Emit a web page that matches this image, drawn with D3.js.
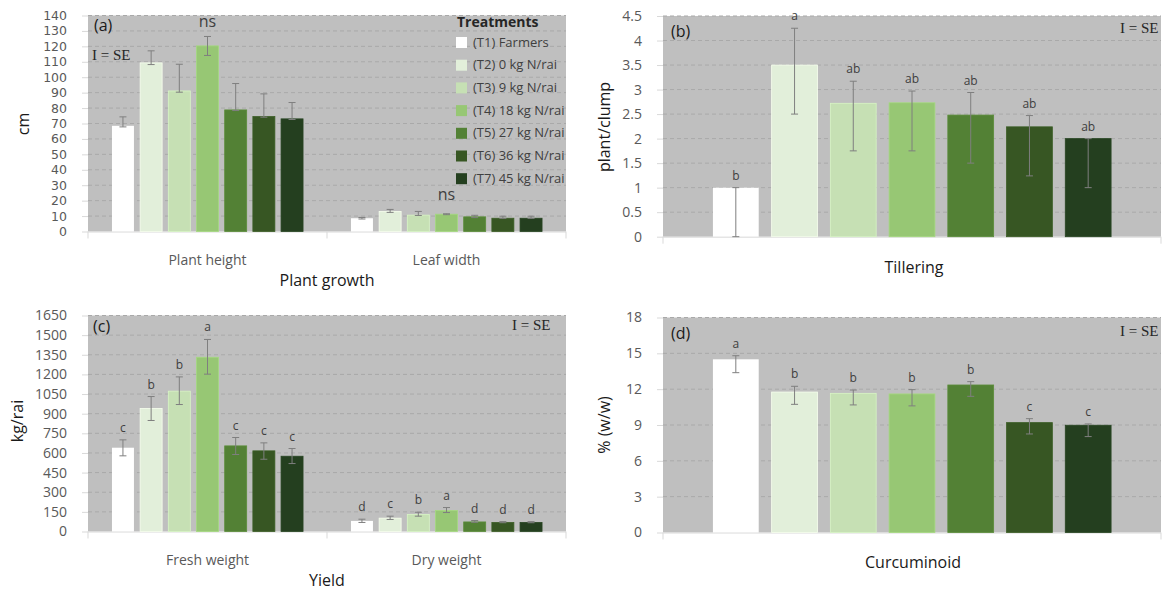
<!DOCTYPE html>
<html>
<head>
<meta charset="utf-8">
<script src="https://cdn.jsdelivr.net/npm/d3@7"></script>
<style>
  html, body { margin: 0; padding: 0; background: #ffffff; }
  svg { display: block; }
  text { font-family: "Open Sans", "Noto Sans", sans-serif; }
</style>
</head>
<body>
<svg id="chart" width="1162" height="592"></svg>
<script>
// Treatments (series) shared by all four panels
const treatments = ["(T1) Farmers", "(T2) 0 kg N/rai", "(T3) 9 kg N/rai", "(T4) 18 kg N/rai",
                    "(T5) 27 kg N/rai", "(T6) 36 kg N/rai", "(T7) 45 kg N/rai"];
const treatmentColors = ["#ffffff", "#e2efda", "#c6e0b4", "#97c774", "#538135", "#375623", "#243f1f"];

// (a) Plant growth
const growthCategories = ["Plant height", "Leaf width"];
const plantHeight        = [68.5, 109.3, 91.1, 120.3, 78.8, 74.5, 73.0];
const plantHeightErrUp   = [5.8, 7.8, 17.3, 6.1, 17.1, 14.7, 10.6];
const plantHeightErrDown = [0.7, 1.1, 0.8, 6.2, 0.4, 0.4, 0.4];
const leafWidth          = [8.6, 13.0, 10.6, 11.2, 9.5, 8.6, 8.6];
const leafWidthErrUp     = [0.5, 1.3, 2.4, 0.3, 1.0, 1.3, 1.3];
const leafWidthErrDown   = [0.5, 0.6, 0.2, 0.3, 0.5, 0.1, 0.1];
const growthSignificance = ["ns", "ns"];
const growthTicks = d3.range(0, 141, 10);

// (b) Tillering
const tilleringCategories = ["Tillering"];
const tillering         = [1.0, 3.5, 2.72, 2.73, 2.48, 2.24, 2.0];
const tilleringErrUp    = [0, 0.75, 0.45, 0.24, 0.46, 0.23, 0];
const tilleringErrDown  = [1.0, 1.0, 0.97, 0.98, 0.98, 1.0, 1.0];
const tilleringLetters  = ["b", "a", "ab", "ab", "ab", "ab", "ab"];
const tilleringTicks = [0, 0.5, 1, 1.5, 2, 2.5, 3, 3.5, 4, 4.5];

// (c) Yield
const yieldCategories = ["Fresh weight", "Dry weight"];
const freshWeight         = [640, 940, 1072, 1331, 654, 616, 575];
const freshWeightErrUp    = [60, 91, 109, 136, 64, 61, 59];
const freshWeightErrDown  = [62, 92, 102, 129, 66, 64, 56];
const freshWeightLetters  = ["c", "b", "b", "a", "c", "c", "c"];
const dryWeight           = [81, 102, 130, 160, 73, 69, 69];
const dryWeightErrUp      = [13, 15, 17, 23, 11, 7, 7];
const dryWeightErrDown    = [12, 10, 13, 15, 3, 2, 2];
const dryWeightLetters    = ["d", "c", "b", "a", "d", "d", "d"];
const yieldTicks = d3.range(0, 1651, 150);

// (d) Curcuminoid
const curcuminoidCategories = ["Curcuminoid"];
const curcuminoid         = [14.5, 11.76, 11.65, 11.6, 12.35, 9.2, 8.98];
const curcuminoidErrUp    = [0.3, 0.48, 0.28, 0.36, 0.28, 0.33, 0.11];
const curcuminoidErrDown  = [1.12, 1.03, 0.97, 1.0, 0.95, 0.95, 0.95];
const curcuminoidLetters  = ["a", "b", "b", "b", "b", "c", "c"];
const curcuminoidTicks = [0, 3, 6, 9, 12, 15, 18];

const svg = d3.select("#chart");

function drawPanel(cfg) {
  const g = svg.append("g");
  const { left, right, top, bottom } = cfg.box;

  const y = d3.scaleLinear().domain([0, cfg.ticks[cfg.ticks.length - 1]]).range([bottom, top]);
  const x0 = d3.scaleBand().domain(cfg.categories).range([left, right]).padding(0);
  const x1 = d3.scaleBand().domain(treatments).range([0, x0.bandwidth()])
    .paddingInner(0.22).paddingOuter(0.85);

  // plot area
  g.append("rect").attr("x", left).attr("y", top)
    .attr("width", right - left).attr("height", bottom - top).attr("fill", "#bfbfbf");

  // dashed gridlines
  g.append("g").selectAll("line").data(cfg.ticks.filter(t => t > 0)).join("line")
    .attr("x1", left).attr("x2", right)
    .attr("y1", d => y(d)).attr("y2", d => y(d))
    .attr("stroke", "#a9a9a9").attr("stroke-width", 1).attr("stroke-dasharray", "4,3");

  // y axis
  const yAxis = d3.axisLeft(y).tickValues(cfg.ticks).tickSize(6).tickPadding(15)
    .tickFormat(d => String(d));
  const ya = g.append("g").attr("transform", `translate(${left},0)`).call(yAxis);
  ya.select(".domain").remove();
  ya.selectAll(".tick line").attr("stroke", "#d9d9d9");
  ya.selectAll(".tick text").attr("fill", "#595959").style("font-size", cfg.tickFont || "14px")
    .style("font-family", cfg.tickFamily || "'Open Sans', sans-serif");

  // x axis baseline with category separators
  g.append("line").attr("x1", left).attr("x2", right).attr("y1", bottom + 0.5).attr("y2", bottom + 0.5)
    .attr("stroke", "#d9d9d9");
  const seps = cfg.categories.map(c => x0(c)).concat([right]);
  g.append("g").selectAll("line").data(seps).join("line")
    .attr("x1", d => d).attr("x2", d => d).attr("y1", bottom).attr("y2", bottom + 7)
    .attr("stroke", "#d9d9d9");

  // bars, error bars, letters
  cfg.series.forEach((s, ci) => {
    const cat = cfg.categories[ci];
    const gx = x0(cat);
    const rows = treatments.map((t, i) => ({
      t, i, v: s.values[i], up: s.errUp[i], down: s.errDown[i],
      letter: s.letters ? s.letters[i] : null
    }));
    const cg = g.append("g").attr("transform", `translate(${gx},0)`);
    cg.selectAll("rect.bar").data(rows).join("rect").attr("class", "bar")
      .attr("x", d => x1(d.t)).attr("width", x1.bandwidth())
      .attr("y", d => y(d.v)).attr("height", d => bottom - y(d.v))
      .attr("fill", d => treatmentColors[d.i])
      .attr("stroke", d => d.i === 0 ? "none" : d3.color(treatmentColors[d.i]).brighter(0.25))
      .attr("stroke-width", 0.8);

    const cap = 3.5;
    const eb = cg.selectAll("g.err").data(rows).join("g").attr("class", "err")
      .attr("stroke", "#7f7f7f").attr("stroke-width", 1);
    eb.append("line")
      .attr("x1", d => x1(d.t) + x1.bandwidth() / 2).attr("x2", d => x1(d.t) + x1.bandwidth() / 2)
      .attr("y1", d => y(d.v + d.up)).attr("y2", d => y(d.v - d.down));
    eb.append("line")
      .attr("x1", d => x1(d.t) + x1.bandwidth() / 2 - cap).attr("x2", d => x1(d.t) + x1.bandwidth() / 2 + cap)
      .attr("y1", d => y(d.v + d.up)).attr("y2", d => y(d.v + d.up));
    eb.append("line")
      .attr("x1", d => x1(d.t) + x1.bandwidth() / 2 - cap).attr("x2", d => x1(d.t) + x1.bandwidth() / 2 + cap)
      .attr("y1", d => y(d.v - d.down)).attr("y2", d => y(d.v - d.down));

    if (s.letters) {
      cg.selectAll("text.letter").data(rows).join("text").attr("class", "letter")
        .attr("x", d => x1(d.t) + x1.bandwidth() / 2)
        .attr("y", d => y(Math.max(d.v, d.v + d.up)) - 8)
        .attr("text-anchor", "middle").attr("fill", "#404040").style("font-size", "12px")
        .text(d => d.letter);
    }
    if (s.groupLabel) {
      const topVal = d3.max(rows, d => d.v + d.up);
      cg.append("text").attr("x", x0.bandwidth() / 2).attr("y", y(topVal) - 9)
        .attr("text-anchor", "middle").attr("fill", "#404040").style("font-size", "16px")
        .text(s.groupLabel);
    }

    // category label
    if (cfg.showCategoryLabels) {
      g.append("text").attr("x", gx + x0.bandwidth() / 2).attr("y", bottom + 33)
        .attr("text-anchor", "middle").attr("fill", "#595959").style("font-size", "14px")
        .text(cat);
    }
  });

  // axis title (x)
  g.append("text").attr("x", cfg.xTitlePos[0]).attr("y", cfg.xTitlePos[1])
    .attr("text-anchor", "middle").attr("fill", "#1a1a1a").style("font-size", "16px")
    .style("font-weight", "500").text(cfg.xTitle);
  // axis title (y)
  g.append("text").attr("transform", `translate(${cfg.yTitlePos[0]},${cfg.yTitlePos[1]}) rotate(-90)`)
    .attr("text-anchor", "middle").attr("fill", "#1a1a1a").style("font-size", "16px")
    .style("font-weight", "500").text(cfg.yTitle);

  // panel tag and SE note
  g.append("text").attr("x", cfg.tagPos[0]).attr("y", cfg.tagPos[1])
    .attr("fill", "#1a1a1a").style("font-size", "16px").text(cfg.tag);
  g.append("text").attr("x", cfg.sePos[0]).attr("y", cfg.sePos[1])
    .attr("fill", "#262626").style("font-size", "15px")
    .style("font-family", "'Liberation Serif', 'DejaVu Serif', serif").text("I = SE");

  return { g };
}

// (a)
const pa = drawPanel({
  box: { left: 88, right: 566, top: 15.5, bottom: 231.5 },
  categories: growthCategories,
  ticks: growthTicks,
  tickFont: "12.5px",
  tickFamily: "'DejaVu Sans', sans-serif",
  series: [
    { values: plantHeight, errUp: plantHeightErrUp, errDown: plantHeightErrDown, groupLabel: growthSignificance[0] },
    { values: leafWidth, errUp: leafWidthErrUp, errDown: leafWidthErrDown, groupLabel: growthSignificance[1] }
  ],
  showCategoryLabels: true,
  xTitle: "Plant growth", xTitlePos: [327, 286],
  yTitle: "cm", yTitlePos: [29, 124],
  tag: "(a)", tagPos: [94, 31],
  sePos: [92, 60]
});

// legend inside (a)
const legend = pa.g.append("g");
legend.append("text").attr("x", 457).attr("y", 27).attr("fill", "#262626")
  .style("font-size", "14px").style("font-weight", "700").text("Treatments");
const li = legend.selectAll("g.item").data(treatments).join("g").attr("class", "item")
  .attr("transform", (d, i) => `translate(456,${42 + i * 22.7})`);
li.append("rect").attr("x", 0).attr("y", -5).attr("width", 11).attr("height", 11)
  .attr("fill", (d, i) => treatmentColors[i]);
li.append("text").attr("x", 17).attr("y", 4.5).attr("fill", "#404040")
  .style("font-size", "13px").text(d => d);

// (b)
drawPanel({
  box: { left: 663, right: 1161, top: 16, bottom: 236.7 },
  categories: tilleringCategories,
  ticks: tilleringTicks,
  series: [
    { values: tillering, errUp: tilleringErrUp, errDown: tilleringErrDown, letters: tilleringLetters }
  ],
  showCategoryLabels: false,
  xTitle: "Tillering", xTitlePos: [914, 273],
  yTitle: "plant/clump", yTitlePos: [610, 127],
  tag: "(b)", tagPos: [671, 37],
  sePos: [1120, 33]
});

// (c)
drawPanel({
  box: { left: 88, right: 566, top: 315.5, bottom: 531.5 },
  categories: yieldCategories,
  ticks: yieldTicks,
  series: [
    { values: freshWeight, errUp: freshWeightErrUp, errDown: freshWeightErrDown, letters: freshWeightLetters },
    { values: dryWeight, errUp: dryWeightErrUp, errDown: dryWeightErrDown, letters: dryWeightLetters }
  ],
  showCategoryLabels: true,
  xTitle: "Yield", xTitlePos: [327, 586],
  yTitle: "kg/rai", yTitlePos: [23, 421],
  tag: "(c)", tagPos: [93, 332],
  sePos: [512, 330]
});

// (d)
drawPanel({
  box: { left: 663, right: 1161, top: 317.5, bottom: 532.5 },
  categories: curcuminoidCategories,
  ticks: curcuminoidTicks,
  series: [
    { values: curcuminoid, errUp: curcuminoidErrUp, errDown: curcuminoidErrDown, letters: curcuminoidLetters }
  ],
  showCategoryLabels: false,
  xTitle: "Curcuminoid", xTitlePos: [913, 568],
  yTitle: "% (w/w)", yTitlePos: [610, 425],
  tag: "(d)", tagPos: [671, 339],
  sePos: [1120, 336]
});
</script>
</body>
</html>
